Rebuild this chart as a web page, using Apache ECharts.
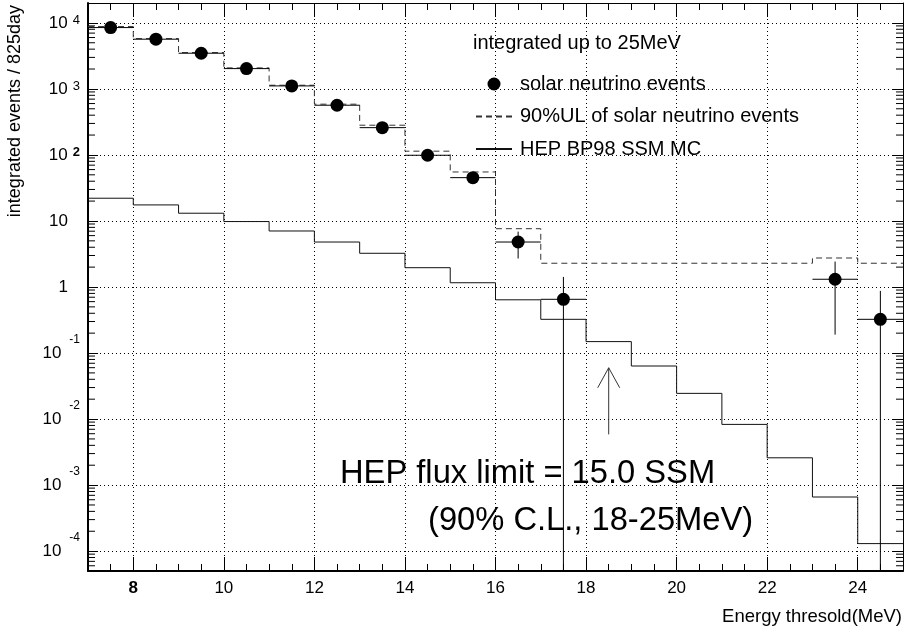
<!DOCTYPE html>
<html>
<head>
<meta charset="utf-8">
<script src="https://cdn.jsdelivr.net/npm/echarts@6/dist/echarts.min.js"></script>
<style>
  html, body { margin: 0; padding: 0; background: #fff; }
  #chart { width: 907px; height: 633px; }
</style>
</head>
<body>
<div id="chart"></div>
<script>
// Histogram bin edges (MeV) shared by the two step curves
const binEdges = [7, 8, 9, 10, 11, 12, 13, 14, 15, 16, 17, 18, 19, 20, 21, 22, 23, 24, 25];

// HEP BP98 SSM Monte Carlo, integrated events per threshold bin
const hepMC = [22.1, 17.5, 13.1, 9.8, 7.05, 4.8, 3.24, 1.96, 1.16, 0.64, 0.324, 0.149,
               0.0636, 0.0245, 0.0083, 0.00259, 0.00066, 0.00013];

// 90% upper limit of solar neutrino events per threshold bin
const ul90 = [8790, 5780, 3550, 2080, 1137, 587, 282, 114, 55.2, 7.64, 2.29, 2.29,
              2.29, 2.29, 2.29, 2.29, 2.75, 2.29];

// Observed solar neutrino events (bin centres, counts, statistical errors)
const eventX = [7.5, 8.5, 9.5, 10.5, 11.5, 12.5, 13.5, 14.5, 15.5, 16.5, 17.5, 23.5, 24.5];
const eventY = [8490, 5660, 3470, 2030, 1110, 566, 259, 98.9, 45.3, 4.8, 0.651, 1.31, 0.324];
const eventErr = [92, 75, 59, 45, 33, 24, 16, 10, 6.7, 2.1, 0.77, 1.12, 0.55];
const eventHalfWidth = 0.5;

// Arrow marking the 18 MeV threshold used for the flux limit
const arrowX = 18.5;
const arrowFrom = 0.00586;
const arrowTo = 0.0598;

// Axis ranges
const xMin = 7, xMax = 25;
const yMin = 5e-5, yMax = 2e4;

const FONT = "'Liberation Sans', Arial, Helvetica, sans-serif";

function stepData(values) {
  const pts = values.map((v, i) => [binEdges[i], v]);
  pts.push([binEdges[binEdges.length - 1], values[values.length - 1]]);
  return pts;
}

// minor log ticks at 2..9 x 10^n inside the axis range
const logMinorTicks = [];
for (let n = -5; n <= 4; n++) {
  for (let k = 2; k <= 9; k++) {
    const v = k * Math.pow(10, n);
    if (v > yMin && v < yMax) logMinorTicks.push([xMin, v]);
  }
}

function yLabel(v) {
  const e = Math.round(Math.log10(v));
  if (e === 0) return '{n|1}{gap|}';
  if (e === 1) return '{n|10}{gap|}';
  if (e === 2) return '{n|10}{epb|2}';
  if (e > 1) return '{n|10}{ep|' + e + '}';
  return '{n|10}{en|' + e + '}';
}

const noMarker = { color: 'rgba(0,0,0,0)', borderColor: 'rgba(0,0,0,0)', borderWidth: 0 };

const chart = echarts.init(document.getElementById('chart'), null, { renderer: 'canvas' });

const option = {
  animation: false,
  backgroundColor: '#fff',
  textStyle: { fontFamily: FONT, color: '#000' },
  grid: { left: 88, top: 3, width: 815, height: 568, containLabel: false },
  xAxis: [{
    type: 'value', min: xMin, max: xMax, splitNumber: 9,
    axisLine: { show: true, onZero: false, lineStyle: { color: '#000', width: 2 } },
    axisTick: { show: true, inside: true, length: 14, lineStyle: { color: '#000' } },
    minorTick: { show: true, splitNumber: 4, length: 7, lineStyle: { color: '#000' } },
    axisLabel: {
      showMinLabel: false, showMaxLabel: false, margin: 9,
      fontSize: 17, color: '#000', fontFamily: FONT,
      formatter: v => v === 8 ? '{b|8}' : String(v),
      rich: { b: { fontSize: 17, fontWeight: 'bold', fontFamily: FONT, color: '#000' } }
    },
    splitLine: { show: true, lineStyle: { color: '#000', type: [1, 3], width: 1 } }
  }, {
    type: 'value', min: xMin, max: xMax, splitNumber: 9, position: 'top',
    axisLine: { show: true, onZero: false, lineStyle: { color: '#000', width: 1 } },
    axisTick: { show: true, inside: true, length: 14, lineStyle: { color: '#000' } },
    minorTick: { show: true, splitNumber: 4, length: 7, lineStyle: { color: '#000' } },
    axisLabel: { show: false },
    splitLine: { show: false }
  }],
  yAxis: [{
    type: 'log', logBase: 10, min: yMin, max: yMax, splitNumber: 9,
    axisLine: { show: true, onZero: false, lineStyle: { color: '#000', width: 2 } },
    axisTick: { show: true, inside: true, length: 10, lineStyle: { color: '#000' } },
    minorTick: { show: false },
    axisLabel: {
      showMinLabel: false, showMaxLabel: false, margin: 8,
      color: '#000', fontFamily: FONT, fontSize: 17,
      formatter: yLabel,
      rich: {
        n: { fontSize: 17, fontFamily: FONT, color: '#000' },
        gap: { width: 12 },
        ep: { fontSize: 13, fontFamily: FONT, color: '#000', padding: [0, 0, 5, 5] },
        epb: { fontSize: 13, fontFamily: FONT, color: '#000', fontWeight: 'bold', padding: [0, 0, 5, 5] },
        en: { fontSize: 12, fontFamily: FONT, color: '#000', padding: [0, 0, 26, 8] }
      }
    },
    splitLine: { show: true, lineStyle: { color: '#000', type: [1, 3], width: 1 } }
  }, {
    type: 'log', logBase: 10, min: yMin, max: yMax, splitNumber: 9, position: 'right',
    axisLine: { show: true, onZero: false, lineStyle: { color: '#000', width: 1 } },
    axisTick: { show: true, inside: true, length: 10, lineStyle: { color: '#000' } },
    axisLabel: { show: false },
    splitLine: { show: false }
  }],
  legend: {
    orient: 'vertical', left: 470, top: 69,
    itemWidth: 36, itemHeight: 13, itemGap: 12.5,
    textStyle: { fontSize: 20, fontFamily: FONT, color: '#000', padding: [0, 0, 0, 3] },
    data: [
      { name: 'solar neutrino events', icon: 'circle', itemStyle: { color: '#000', opacity: 1 } },
      { name: '90%UL of solar neutrino events', itemStyle: noMarker },
      { name: 'HEP BP98 SSM MC', itemStyle: noMarker }
    ]
  },
  graphic: [
    { type: 'text', x: 15, y: 5, rotation: Math.PI / 2,
      style: { text: 'integrated events / 825day', font: '18px ' + FONT, fill: '#000', align: 'right', verticalAlign: 'middle' } },
    { type: 'text', x: 902, y: 617,
      style: { text: 'Energy thresold(MeV)', font: '18.5px ' + FONT, fill: '#000', align: 'right', verticalAlign: 'middle' } },
    { type: 'text', x: 473, y: 43,
      style: { text: 'integrated up to 25MeV', font: '20px ' + FONT, fill: '#000', align: 'left', verticalAlign: 'middle' } },
    { type: 'text', x: 340, y: 474,
      style: { text: 'HEP flux limit = 15.0 SSM', font: '32.7px ' + FONT, fill: '#000', align: 'left', verticalAlign: 'middle' } },
    { type: 'text', x: 428, y: 521,
      style: { text: '(90% C.L., 18-25MeV)', font: '32.7px ' + FONT, fill: '#000', align: 'left', verticalAlign: 'middle' } }
  ],
  series: [
    {
      name: 'HEP BP98 SSM MC', type: 'line', step: 'end',
      data: stepData(hepMC), symbol: 'none', showSymbol: false,
      lineStyle: { color: '#111', width: 1 }, itemStyle: { color: '#111' },
      z: 3
    },
    {
      name: '90%UL of solar neutrino events', type: 'line', step: 'end',
      data: stepData(ul90), symbol: 'none', showSymbol: false,
      lineStyle: { color: '#333', width: 1, type: [6, 4] }, itemStyle: { color: '#333' },
      z: 3
    },
    {
      name: 'error bars', type: 'custom', clip: true, z: 4,
      data: eventX.map((x, i) => [x, eventY[i], eventErr[i]]),
      renderItem: function (params, api) {
        const x = api.value(0), y = api.value(1), e = api.value(2);
        const c = api.coord([x, y]);
        const left = api.coord([x - eventHalfWidth, y])[0];
        const right = api.coord([x + eventHalfWidth, y])[0];
        const top = api.coord([x, y + e])[1];
        const cs = params.coordSys;
        const lo = y - e;
        const bottom = lo > 0 ? api.coord([x, lo])[1] : cs.y + cs.height;
        const st = { stroke: '#000', lineWidth: 1 };
        return {
          type: 'group', children: [
            { type: 'line', shape: { x1: left, y1: c[1], x2: right, y2: c[1] }, style: st },
            { type: 'line', shape: { x1: c[0], y1: top, x2: c[0], y2: bottom }, style: st }
          ]
        };
      }
    },
    {
      name: 'solar neutrino events', type: 'scatter', z: 5,
      data: eventX.map((x, i) => [x, eventY[i]]),
      symbol: 'circle', symbolSize: 13,
      itemStyle: { color: '#000', opacity: 1 }
    },
    {
      name: 'minor ticks', type: 'custom', z: 2, silent: true,
      data: logMinorTicks,
      renderItem: function (params, api) {
        const cs = params.coordSys;
        const y = api.coord([api.value(0), api.value(1)])[1];
        const st = { stroke: '#000', lineWidth: 1 };
        return {
          type: 'group', children: [
            { type: 'line', shape: { x1: cs.x, y1: y, x2: cs.x + 7, y2: y }, style: st },
            { type: 'line', shape: { x1: cs.x + cs.width - 7, y1: y, x2: cs.x + cs.width, y2: y }, style: st }
          ]
        };
      }
    },
    {
      name: 'threshold arrow', type: 'custom', z: 4, silent: true,
      data: [[arrowX, arrowFrom, arrowTo]],
      renderItem: function (params, api) {
        const p0 = api.coord([api.value(0), api.value(1)]);
        const p1 = api.coord([api.value(0), api.value(2)]);
        const st = { stroke: '#333', lineWidth: 1, fill: null };
        return {
          type: 'group', children: [
            { type: 'line', shape: { x1: p0[0], y1: p0[1], x2: p1[0], y2: p1[1] }, style: st },
            { type: 'polyline', shape: { points: [[p1[0] - 11, p1[1] + 20], [p1[0], p1[1]], [p1[0] + 11, p1[1] + 20]] }, style: st }
          ]
        };
      }
    }
  ]
};

chart.setOption(option);
</script>
</body>
</html>
